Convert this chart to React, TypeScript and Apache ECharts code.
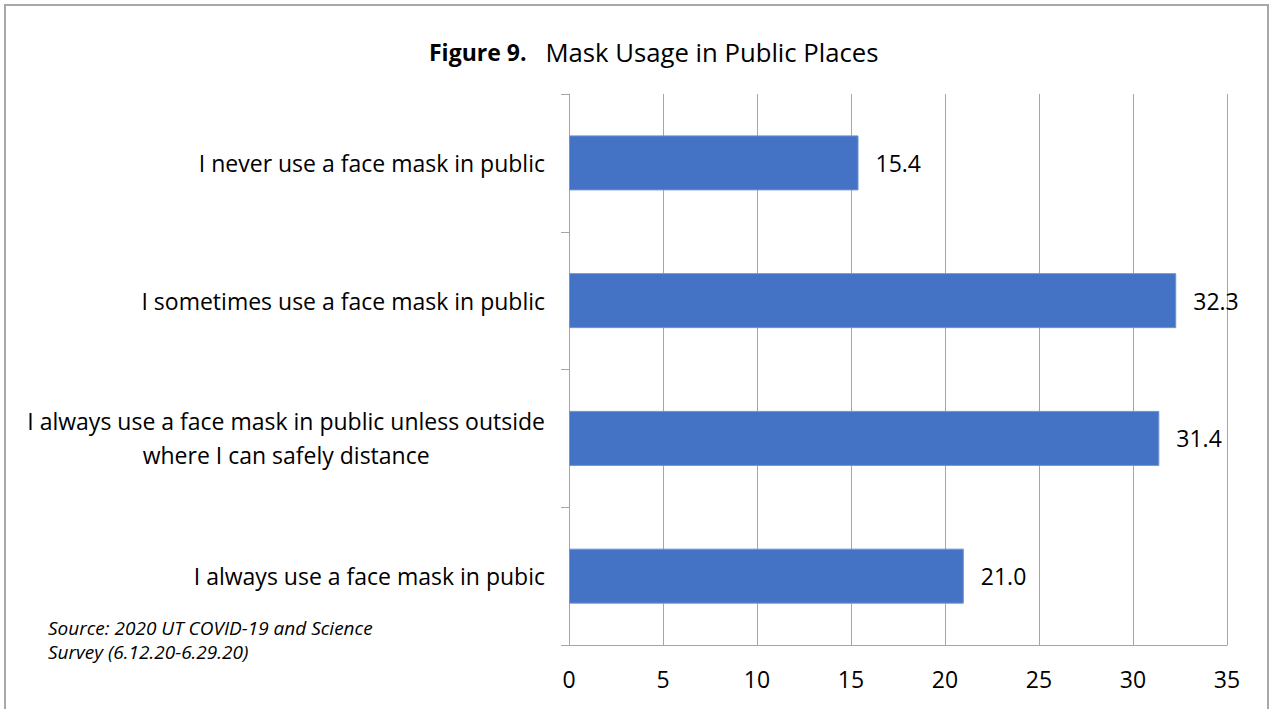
import React, { useEffect, useRef } from "react";
import * as echarts from "echarts";

// Survey answers, listed bottom to top as drawn on the category axis
const categories = [
  "I always use a face mask in pubic",
  "I always use a face mask in public unless outside\nwhere I can safely distance",
  "I sometimes use a face mask in public",
  "I never use a face mask in public",
];
const percentages = [21.0, 31.4, 32.3, 15.4];

const xMin = 0;
const xMax = 35;
const xStep = 5;

const titleBold = "Figure 9.";
const titleRest = "Mask Usage in Public Places";
const sourceLines = [
  "Source: 2020 UT COVID-19 and Science",
  "Survey (6.12.20-6.29.20)",
];

const FONT = "'Open Sans', Lato, 'DejaVu Sans', sans-serif";
const GRID_GRAY = "#a6a6a6";
const LABEL_SIZE = 23;

export default function App() {
  const ref = useRef<HTMLDivElement>(null);

  useEffect(() => {
    if (!ref.current) return;
    const chart = echarts.init(ref.current, undefined, { renderer: "svg" });

    chart.setOption({
      animation: false,
      backgroundColor: "#ffffff",
      textStyle: { fontFamily: FONT },
      title: {
        text: `{b|${titleBold}}{n|${titleRest}}`,
        left: 424,
        top: 34,
        textStyle: {
          rich: {
            b: {
              fontFamily: FONT,
              fontSize: 23,
              fontWeight: "bold",
              color: "#000",
              padding: [0, 19, 0, 0],
            },
            n: { fontFamily: FONT, fontSize: 25.7, fontWeight: "normal", color: "#000" },
          },
        },
      },
      grid: { left: 569, right: 43, top: 94, bottom: 64, containLabel: false },
      xAxis: {
        type: "value",
        min: xMin,
        max: xMax,
        interval: xStep,
        axisLine: { show: true, lineStyle: { color: GRID_GRAY, width: 1 } },
        axisTick: { show: false },
        splitLine: { show: true, lineStyle: { color: GRID_GRAY, width: 1 } },
        axisLabel: {
          color: "#000",
          fontSize: LABEL_SIZE,
          fontFamily: FONT,
          margin: 22,
        },
      },
      yAxis: {
        type: "category",
        data: categories,
        axisLine: { show: true, lineStyle: { color: GRID_GRAY, width: 1 } },
        axisTick: { show: true, length: 8, lineStyle: { color: GRID_GRAY } },
        axisLabel: {
          color: "#000",
          margin: 24,
          align: "right",
          formatter: (v: string) => `{c|${v}}`,
          rich: {
            c: {
              fontFamily: FONT,
              fontSize: LABEL_SIZE,
              color: "#000",
              align: "center",
              lineHeight: 34,
            },
          },
        },
      },
      series: [
        {
          type: "bar",
          data: percentages,
          barWidth: 55,
          itemStyle: { color: "#4472c4", borderColor: "#6f93d3", borderWidth: 1 },
          label: {
            show: true,
            position: "right",
            distance: 17,
            color: "#000",
            fontSize: LABEL_SIZE,
            fontFamily: FONT,
            formatter: (p: any) => Number(p.value).toFixed(1),
          },
        },
      ],
      graphic: [
        {
          type: "rect",
          shape: { x: 5, y: 5, width: 1263, height: 720 },
          style: { fill: "none", stroke: "#a8a8a8", lineWidth: 2 },
          silent: true,
        },
        ...sourceLines.map((line, i) => ({
          type: "text",
          x: 48,
          y: 628 + i * 24,
          style: {
            text: line,
            font: `italic 19px ${FONT}`,
            fill: "#000",
            textVerticalAlign: "middle",
            verticalAlign: "middle",
          },
        })),
      ],
    });

    return () => chart.dispose();
  }, []);

  return (
    <div
      ref={ref}
      style={{ position: "absolute", left: 0, top: 0, width: 1270, height: 709 }}
    />
  );
}
